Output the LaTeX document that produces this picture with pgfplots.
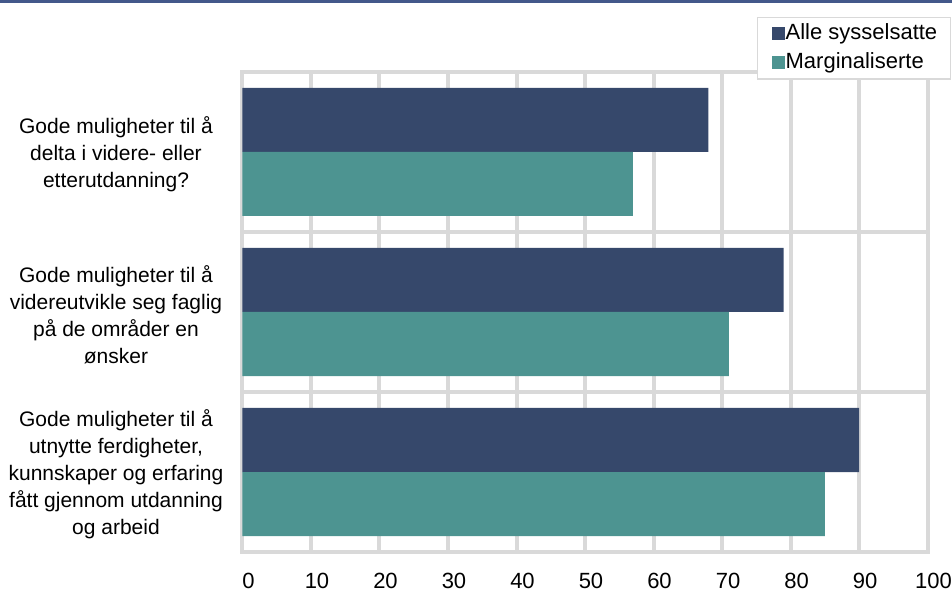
\documentclass[border=0pt]{standalone}
\usepackage{pgfplots}
\pgfplotsset{compat=1.18}
\usepackage{fontspec}
\setmainfont{Liberation Sans}
\definecolor{navy}{RGB}{54,72,107}
\definecolor{tealbar}{RGB}{77,148,145}
\definecolor{gridgray}{RGB}{217,217,217}
\definecolor{topline}{RGB}{67,88,138}
\newcommand{\lblfont}{\fontsize{21bp}{27bp}\selectfont}
\newcommand{\tickfont}{\fontsize{22bp}{27bp}\selectfont}

\begin{document}
\begin{tikzpicture}
\path[use as bounding box] (-242.5bp,-40bp) rectangle (709.5bp,552bp);
\fill[topline] (-242.5bp,549bp) rectangle (709.5bp,552bp);
\begin{axis}[
  at={(0,0)}, anchor=south west,
  scale only axis, width=685bp, height=480bp,
  xmin=0, xmax=100, ymin=-0.5, ymax=2.5,
  xtick={0,10,...,100},
  ytick={0,1,2},
  yticklabels={
    {Gode muligheter til å\\utnytte ferdigheter,\\kunnskaper og erfaring\\fått gjennom utdanning\\og arbeid},
    {Gode muligheter til å\\videreutvikle seg faglig\\på de områder en\\ønsker},
    {Gode muligheter til å\\delta i videre- eller\\etterutdanning?}},
  minor ytick={0.5,1.5},
  xmajorgrids, yminorgrids,
  major grid style={gridgray, line width=4bp},
  minor grid style={gridgray, line width=4bp},
  axis line style={gridgray, line width=4bp},
  major tick length=0pt, minor tick length=0pt,
  /pgf/number format/assume math mode=true,
  xticklabel style={font=\tickfont, yshift=-18bp, xshift=6bp},
  yticklabel style={font=\lblfont, align=center, anchor=center,
    xshift=-126.5bp, yshift=-2.5bp},
  legend style={at={(1,1)}, anchor=north east, xshift=23.5bp, yshift=55bp,
    draw=gridgray, line width=1.5bp, fill=white, font=\tickfont,
    inner xsep=13bp, inner ysep=5.75bp, row sep=8bp,
    nodes={inner sep=0bp, text height=16bp, text depth=5bp}},
  legend cell align=left,
  legend image code/.code={%
    \path[#1, draw=none] (1bp,-6.5bp) rectangle (14bp,6.5bp);
    \path (0bp,0bp) (15bp,0bp);},
]
\addplot[xbar, bar width=64bp, bar shift=32bp, fill=navy, draw=none]
  coordinates {(90,0) (79,1) (68,2)};
\addplot[xbar, bar width=64bp, bar shift=-32bp, fill=tealbar, draw=none]
  coordinates {(85,0) (71,1) (57,2)};
\legend{Alle sysselsatte, Marginaliserte}
\end{axis}
\end{tikzpicture}
\end{document}
